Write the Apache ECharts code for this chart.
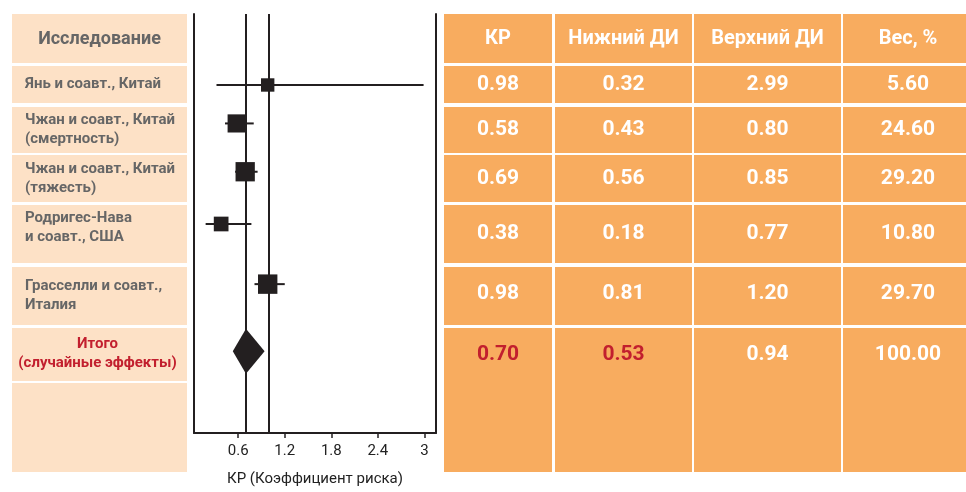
<!DOCTYPE html>
<html><head><meta charset="utf-8">
<script src="https://cdn.jsdelivr.net/npm/echarts@6/dist/echarts.min.js"></script>
<style>html,body{margin:0;padding:0;background:#fff}#c{width:966px;height:492px}</style>
</head><body><div id="c"></div>
<script>
// ---- DATA ----
const studies = ['Янь и соавт., Китай', 'Чжан и соавт., Китай\n(смертность)', 'Чжан и соавт., Китай\n(тяжесть)', 'Родригес-Нава\nи соавт., США', 'Грасселли и соавт.,\nИталия'];
const kr = [0.98, 0.58, 0.69, 0.38, 0.98];
const lowerCI = [0.32, 0.43, 0.56, 0.18, 0.81];
const upperCI = [2.99, 0.80, 0.85, 0.77, 1.20];
const weights = [5.60, 24.60, 29.20, 10.80, 29.70];
const pooledLabel = 'Итого\n(случайные эффекты)';
const pooledKR = 0.70, pooledLower = 0.53, pooledUpper = 0.94, pooledWeight = 100.00;
const nullEffect = 1;
const xTicks = [0.6, 1.2, 1.8, 2.4, 3];
const headers = ['КР', 'Нижний ДИ', 'Верхний ДИ', 'Вес, %'];
const studyHeader = 'Исследование';
const axisName = 'КР (Коэффициент риска)';

// ---- LAYOUT ----
const FONT = 'Roboto, "Noto Sans", sans-serif';
const headBand = [14, 63];
const rowBands = [[66, 103], [107, 153], [155, 202], [205, 263], [267, 325], [328, 381]];
const leftExtraBand = [383, 472];
const rightLastBand = [328, 472];
const markY = [86, 125, 174, 227, 288, 356];
const textY = [84.5, 130, 178.5, 228, 296, 354];
const rightTextY = [84.5, 130, 178.5, 234, 294, 355];
const leftX = [12, 187];
const rightCols = [[444, 552], [555, 692], [694, 841], [843, 966]];
const peach = '#FDE1C6', orange = '#F8AC5F', grey = '#666666', red = '#C21F2E', ink = '#231F20';

const g = [];
function rect(x0, y0, x1, y1, fill) { g.push({type:'rect', shape:{x:x0, y:y0, width:x1-x0, height:y1-y0}, style:{fill}, silent:true}); }
function txt(s, x, y, opts) {
  g.push({type:'text', x, y, silent:true, style:Object.assign({text:s, fill:grey, fontFamily:FONT, fontWeight:'bold', fontSize:15,
    align:'left', verticalAlign:'middle', textAlign:'left', textVerticalAlign:'middle', lineHeight:19}, opts)});
}
// left table
rect(leftX[0], headBand[0], leftX[1], headBand[1], peach);
txt(studyHeader, (leftX[0]+leftX[1])/2, (headBand[0]+headBand[1])/2 + 1, {fontSize:18, align:'center', textAlign:'center'});
rowBands.forEach((b, i) => rect(leftX[0], b[0], leftX[1], b[1], peach));
rect(leftX[0], leftExtraBand[0], leftX[1], leftExtraBand[1], peach);
studies.forEach((s, i) => txt(s, 25, textY[i], {fontSize:15}));
txt(pooledLabel, (leftX[0]+leftX[1])/2 - 2, textY[5], {fontSize:15, fill:red, align:'center', textAlign:'center'});
// right table
const rowsVals = studies.map((_, i) => [kr[i], lowerCI[i], upperCI[i], weights[i]]);
rightCols.forEach((c, j) => {
  rect(c[0], headBand[0], c[1], headBand[1], orange);
  const cx = j === 3 ? 908 : (c[0]+c[1])/2;
  txt(headers[j], cx, (headBand[0]+headBand[1])/2, {fill:'#fff', fontSize:20, align:'center', textAlign:'center'});
  rowBands.slice(0,5).forEach((b, i) => {
    rect(c[0], b[0], c[1], b[1], orange);
    txt(rowsVals[i][j].toFixed(2), cx, rightTextY[i], {fill:'#fff', fontSize:21, align:'center', textAlign:'center'});
  });
  rect(c[0], rightLastBand[0], c[1], rightLastBand[1], orange);
  const pv = [pooledKR, pooledLower, pooledUpper, pooledWeight][j];
  txt(pv.toFixed(2), cx, rightTextY[5], {fill: j < 2 ? red : '#fff', fontSize:21, align:'center', textAlign:'center'});
});

const chart = echarts.init(document.getElementById('c'), null, {renderer:'canvas'});
const studyData = studies.map((_, i) => [kr[i], lowerCI[i], upperCI[i], markY[i], weights[i]]);
chart.setOption({
  animation:false,
  grid:{left:194, right:966-436, top:14, bottom:492-439},
  xAxis:{type:'value', min:0.03, max:3.15,
    axisLine:{show:true, onZero:false, lineStyle:{color:ink, width:2}},
    axisTick:{show:true, customValues:xTicks, length:5, lineStyle:{color:ink, width:1.5}},
    axisLabel:{customValues:xTicks, color:'#222', fontSize:15, fontFamily:FONT, margin:11, formatter:v => String(v)},
    splitLine:{show:false},
    name:axisName, nameLocation:'middle', nameGap:39, nameTextStyle:{color:'#222', fontSize:15, fontFamily:FONT}},
  yAxis:[
    {type:'value', min:14, max:439, inverse:true, axisLabel:{show:false}, axisTick:{show:false}, splitLine:{show:false},
     axisLine:{show:true, onZero:false, lineStyle:{color:ink, width:2}}},
    {type:'value', position:'right', min:14, max:439, inverse:true, axisLabel:{show:false}, axisTick:{show:false}, splitLine:{show:false},
     axisLine:{show:true, onZero:false, lineStyle:{color:ink, width:2}}}
  ],
  graphic:g,
  series:[
    {type:'custom', data:studyData, clip:false,
     markLine:{silent:true, symbol:'none', label:{show:false}, lineStyle:{color:ink, width:2, type:'solid'},
       data:[{xAxis:pooledKR}, {xAxis:nullEffect}]},
     renderItem:(params, api) => {
       const y = api.value(3);
       const lo = api.coord([api.value(1), y]);
       const hi = api.coord([api.value(2), y]);
       const c = api.coord([api.value(0), y]);
       const s = 12 + api.value(4) * 0.25;
       return {type:'group', children:[
         {type:'line', shape:{x1:lo[0], y1:lo[1], x2:hi[0], y2:hi[1]}, style:{stroke:ink, lineWidth:2}},
         {type:'rect', shape:{x:c[0]-s/2, y:c[1]-s/2, width:s, height:s}, style:{fill:ink}}
       ]};
     }},
    {type:'custom', data:[[pooledKR, pooledLower, pooledUpper, markY[5]]], clip:false,
     renderItem:(params, api) => {
       const y = api.value(3);
       const lo = api.coord([api.value(1), y]);
       const hi = api.coord([api.value(2), y]);
       const c = api.coord([api.value(0), y]);
       return {type:'polygon', shape:{points:[lo, [c[0], c[1]-22.5], hi, [c[0], c[1]+22.5]]}, style:{fill:ink}};
     }}
  ]
});
</script></body></html>
